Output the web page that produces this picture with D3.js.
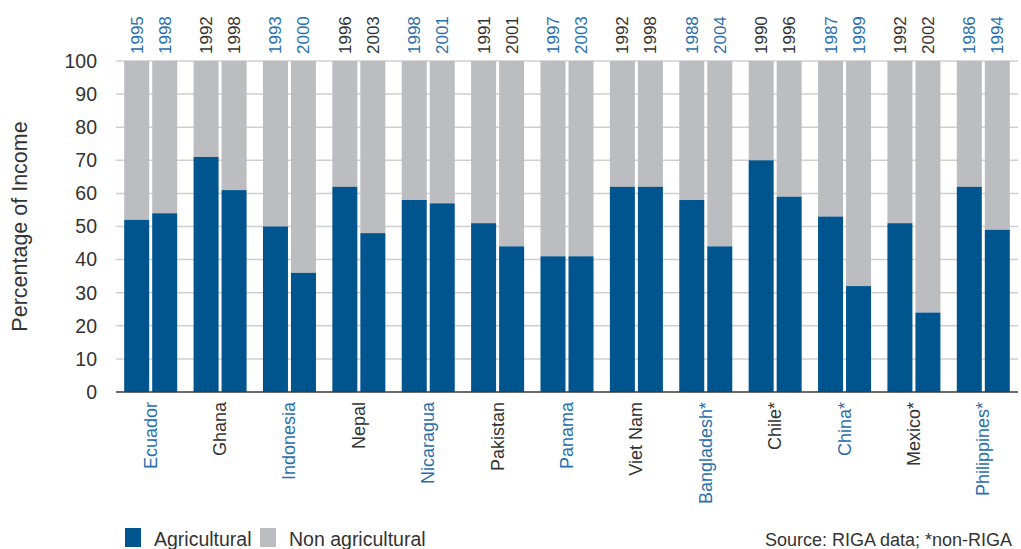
<!DOCTYPE html>
<html>
<head>
<meta charset="utf-8">
<script src="https://cdn.jsdelivr.net/npm/d3@7"></script>
<style>
  body { margin: 0; background: #fff; }
  #chart { width: 1021px; height: 549px; }
  text { font-family: "Liberation Sans", Arial, sans-serif; }
</style>
</head>
<body>
<div id="chart"></div>
<script>
// data
var countries = ["Ecuador", "Ghana", "Indonesia", "Nepal", "Nicaragua", "Pakistan", "Panama",
    "Viet Nam", "Bangladesh*", "Chile*", "China*", "Mexico*", "Philippines*"];
var yearsA = ["1995", "1992", "1993", "1996", "1998", "1991", "1997", "1992", "1988", "1990", "1987", "1992", "1986"];
var yearsB = ["1998", "1998", "2000", "2003", "2001", "2001", "2003", "1998", "2004", "1996", "1999", "2002", "1994"];
var agriA = [52, 71, 50, 62, 58, 51, 41, 62, 58, 70, 53, 51, 62];
var agriB = [54, 61, 36, 48, 57, 44, 41, 62, 44, 59, 32, 24, 49];
var yTicks = [0, 10, 20, 30, 40, 50, 60, 70, 80, 90, 100];

var blue = "#00558f";
var grey = "#bcbdc1";
var labelBlue = "#2a6fad";
var dark = "#333333";

var width = 1021, height = 549;
var margin = {top: 61, left: 116, right: 3, bottom: 157};

var svg = d3.select("#chart")
    .append("svg")
    .attr("width", width)
    .attr("height", height);

var x0 = d3.scaleBand()
    .domain(countries)
    .range([margin.left, width - margin.right])
    .paddingInner(0.236)
    .paddingOuter(0.118);

var x1 = d3.scaleBand()
    .domain([0, 1])
    .range([0, x0.bandwidth()])
    .paddingInner(0.107);

var y = d3.scaleLinear()
    .domain([0, 100])
    .range([height - margin.bottom, margin.top]);

// gridlines
svg.append("g")
    .selectAll("line")
    .data(yTicks.filter(function(d) { return d > 0; }))
    .enter()
    .append("line")
        .attr("x1", margin.left)
        .attr("x2", width - 3)
        .attr("y1", function(d) { return y(d); })
        .attr("y2", function(d) { return y(d); })
        .attr("stroke", "#cfcfcf")
        .attr("stroke-width", 1.5);

// y tick labels
svg.append("g")
    .selectAll("text")
    .data(yTicks)
    .enter()
    .append("text")
        .attr("x", 97)
        .attr("y", function(d) { return y(d); })
        .attr("dy", "0.35em")
        .attr("text-anchor", "end")
        .attr("fill", dark)
        .attr("font-size", "19.5px")
        .text(function(d) { return d; });

svg.append("text")
    .attr("transform", "translate(27," + y(50) + ") rotate(-90)")
    .attr("text-anchor", "middle")
    .attr("fill", dark)
    .attr("font-size", "21.5px")
    .text("Percentage of Income");

var bars = [];
countries.forEach(function(c, i) {
    bars.push({country: c, idx: i, k: 0, year: yearsA[i], agri: agriA[i]});
    bars.push({country: c, idx: i, k: 1, year: yearsB[i], agri: agriB[i]});
});

var bar = svg.selectAll(".bar")
    .data(bars)
    .enter().append("g")
    .attr("class", "bar")
    .attr("transform", function(d) { return "translate(" + (x0(d.country) + x1(d.k)) + ",0)"; });

bar.append("rect")
    .attr("y", function(d) { return y(100); })
    .attr("height", function(d) { return y(d.agri) - y(100); })
    .attr("width", x1.bandwidth())
    .attr("fill", grey);

bar.append("rect")
    .attr("y", function(d) { return y(d.agri); })
    .attr("height", function(d) { return y(0) - y(d.agri); })
    .attr("width", x1.bandwidth())
    .attr("fill", blue);

// year labels on top (upright, so they do not collide)
bar.append("text")
    .attr("transform", function(d) { return "translate(" + (x1.bandwidth() / 2 + 6) + "," + (y(100) - 7) + ") rotate(-90)"; })
    .attr("fill", function(d) { return d.idx % 2 === 0 ? labelBlue : dark; })
    .attr("font-size", "17px")
    .text(function(d) { return d.year; });

// base line
svg.append("line")
    .attr("x1", margin.left)
    .attr("x2", width - 3)
    .attr("y1", y(0))
    .attr("y2", y(0))
    .attr("stroke", "#3a3a3a")
    .attr("stroke-width", 1.5);

// country labels
svg.append("g")
    .selectAll("text")
    .data(countries)
    .enter()
    .append("text")
        .attr("transform", function(d) { return "translate(" + (x0(d) + x0.bandwidth() / 2 + 6) + "," + (y(0) + 10) + ") rotate(-90)"; })
        .attr("text-anchor", "end")
        .attr("fill", function(d, i) { return i % 2 === 0 ? labelBlue : dark; })
        .attr("font-size", "18px")
        .text(function(d) { return d; });

// legend
var legend = [{name: "Agricultural", color: blue, x: 125}, {name: "Non agricultural", color: grey, x: 260}];
var lg = svg.selectAll(".legend")
    .data(legend)
    .enter().append("g")
    .attr("class", "legend")
    .attr("transform", function(d) { return "translate(" + d.x + ",528)"; });
lg.append("rect")
    .attr("width", 16)
    .attr("height", 19)
    .attr("fill", function(d) { return d.color; });
lg.append("text")
    .attr("x", 29)
    .attr("y", 18)
    .attr("fill", dark)
    .attr("font-size", "19.5px")
    .text(function(d) { return d.name; });

svg.append("text")
    .attr("x", 1012)
    .attr("y", 546)
    .attr("text-anchor", "end")
    .attr("fill", dark)
    .attr("font-size", "18px")
    .text("Source: RIGA data; *non-RIGA");
</script>
</body>
</html>
